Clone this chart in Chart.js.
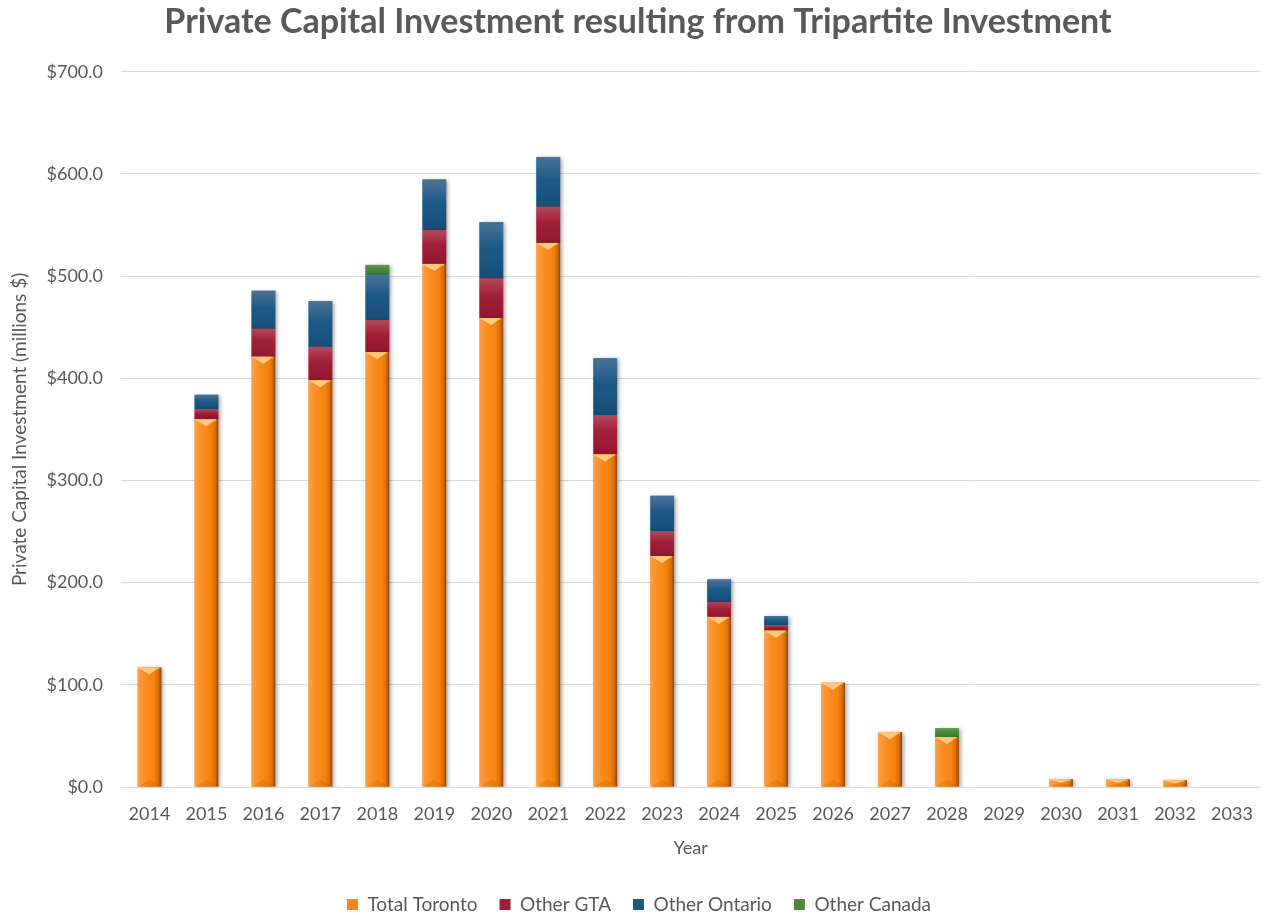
<!DOCTYPE html>
<html lang="en">
<head>
  <meta charset="UTF-8">
  <title>Private Capital Investment</title>
  <script src="https://cdn.jsdelivr.net/npm/chart.js"></script>
  <style>
    html, body { margin: 0; padding: 0; background: #fff; }
    .wrap { width: 1269px; height: 915px; position: relative; }
  </style>
</head>
<body>
  <div class="wrap">
    <canvas id="chart" width="1269" height="915"></canvas>
  </div>

  <script>
    const years = ['2014', '2015', '2016', '2017', '2018', '2019', '2020', '2021', '2022', '2023',
                   '2024', '2025', '2026', '2027', '2028', '2029', '2030', '2031', '2032', '2033'];
    const totalToronto = [117, 360, 421, 398, 425.5, 512, 459, 532.5, 325.5, 226,
                          166.5, 153, 102, 53.6, 49, 0, 7.5, 7.5, 6.6, 0];
    const otherGTA = [0, 9.8, 27.4, 32.8, 31.3, 33, 38.6, 35.3, 38.5, 24.4,
                      14.4, 5.5, 0, 0, 0, 0, 0, 0, 0, 0];
    const otherOntario = [0, 14, 37.2, 44.6, 44.7, 48.3, 55.2, 48.9, 55.6, 34.6,
                          22.2, 8.8, 0, 0, 0, 0, 0, 0, 0, 0];
    const otherCanada = [0, 0, 0, 0, 9.5, 1.4, 0, 0, 0, 0,
                         0, 0, 0, 0, 8.5, 0, 0, 0, 0, 0];
    const yTicks = [0, 100, 200, 300, 400, 500, 600, 700];

    const textGrey = '#595959';
    const FONT = 'Lato, "Open Sans", sans-serif';

    // vertical gradient stops for the stacked segments (top -> bottom)
    const segShades = {
      1: ['#B24A5C', '#A01E36', '#931830'],
      2: ['#4C7399', '#1C5A86', '#164E78'],
      3: ['#5E9A4C', '#4A8A38', '#3F7A30']
    };

    // shadow + shading on bars, drawn from the bar elements' own geometry
    const barLook = {
      id: 'barLook',
      beforeDatasetDraw(chart) {
        const ctx = chart.ctx;
        ctx.save();
        ctx.shadowColor = 'rgba(0,0,0,0.35)';
        ctx.shadowBlur = 4;
        ctx.shadowOffsetX = 2;
        ctx.shadowOffsetY = 1;
      },
      afterDatasetDraw(chart, args) {
        const ctx = chart.ctx;
        ctx.restore();
        ctx.save();
        args.meta.data.forEach(bar => {
          const w = bar.width;
          const l = bar.x - w / 2, r = bar.x + w / 2;
          const top = Math.min(bar.y, bar.base), bot = Math.max(bar.y, bar.base);
          const h = bot - top;
          if (h < 0.5) return;
          if (args.index === 0) {
            const g = ctx.createLinearGradient(l, 0, r, 0);
            g.addColorStop(0, '#FBA048');
            g.addColorStop(0.3, '#FA8E22');
            g.addColorStop(0.7, '#F5820C');
            g.addColorStop(0.88, '#D86C0A');
            g.addColorStop(1, '#8A4508');
            ctx.fillStyle = g;
            ctx.fillRect(l, top, w, h);
            const bv = Math.min(7, h / 2);
            // top bevel
            ctx.fillStyle = 'rgba(255,214,150,0.85)';
            ctx.beginPath();
            ctx.moveTo(l, top);
            ctx.lineTo(r - 2, top);
            ctx.lineTo(bar.x, top + bv);
            ctx.closePath();
            ctx.fill();
            ctx.fillStyle = 'rgba(255,190,110,0.5)';
            ctx.fillRect(l, top, w - 2, Math.min(2, h));
            // bottom bevel
            ctx.fillStyle = 'rgba(150,70,0,0.15)';
            ctx.beginPath();
            ctx.moveTo(l, bot);
            ctx.lineTo(r, bot);
            ctx.lineTo(bar.x, bot - bv);
            ctx.closePath();
            ctx.fill();
          } else {
            const s = segShades[args.index];
            const g = ctx.createLinearGradient(0, top, 0, bot);
            g.addColorStop(0, s[0]);
            g.addColorStop(0.45, s[1]);
            g.addColorStop(1, s[2]);
            ctx.fillStyle = g;
            ctx.fillRect(l, top, w, h);
          }
        });
        ctx.restore();
      }
    };

    // nudge legend and title to where the original has them
    const boxShift = {
      id: 'boxShift',
      afterLayout(chart) {
        chart.legend.top += 9;
        chart.legend.bottom += 9;
        chart.legend.left += 7;
        chart.legend.right += 7;
        chart.titleBlock.left += 6;
        chart.titleBlock.right += 6;
      }
    };

    const ctx = document.getElementById('chart').getContext('2d');
    new Chart(ctx, {
      type: 'bar',
      data: {
        labels: years,
        datasets: [
          { label: 'Total Toronto', data: totalToronto, backgroundColor: '#F7871C' },
          { label: 'Other GTA', data: otherGTA, backgroundColor: '#A01E36' },
          { label: 'Other Ontario', data: otherOntario, backgroundColor: '#1C5A86' },
          { label: 'Other Canada', data: otherCanada, backgroundColor: '#4A8A38' }
        ]
      },
      options: {
        responsive: false,
        animation: false,
        layout: { padding: { left: 0, right: 5, top: 0, bottom: 0 } },
        datasets: {
          bar: { categoryPercentage: 1, barPercentage: 0.415, borderWidth: 0 }
        },
        plugins: {
          title: {
            display: true,
            text: 'Private Capital Investment resulting from Tripartite Investment',
            color: textGrey,
            font: { family: FONT, size: 34, weight: 'bold' },
            padding: { top: 2, bottom: 29 }
          },
          legend: {
            position: 'bottom',
            labels: {
              color: textGrey,
              font: { family: FONT, size: 19 },
              boxWidth: 11,
              boxHeight: 11,
              padding: 22
            }
          },
          tooltip: { enabled: false }
        },
        scales: {
          x: {
            stacked: true,
            grid: { display: false, drawTicks: false },
            border: { display: false },
            ticks: { color: textGrey, font: { family: FONT, size: 18 }, padding: 16 },
            title: {
              display: true, text: 'Year', color: textGrey,
              font: { family: FONT, size: 18 }, padding: { top: 6, bottom: 5 }
            },
            afterFit(s) {
              s.height = 915 - 787 - s.chart.legend.height;
            }
          },
          y: {
            stacked: true,
            min: 0,
            max: 700,
            grid: { color: '#D9D9D9', drawTicks: false, lineWidth: 1 },
            border: { display: false },
            afterBuildTicks(s) {
              s.ticks = yTicks.map(v => ({ value: v }));
            },
            ticks: {
              color: textGrey,
              font: { family: FONT, size: 18 },
              padding: 18,
              callback: v => '$' + Number(v).toFixed(1)
            },
            title: {
              display: true, text: 'Private Capital Investment (millions $)', color: textGrey,
              font: { family: FONT, size: 19 }, padding: { top: 8, bottom: 0 }
            },
            afterFit(s) {
              s.width = 121;
            }
          }
        }
      },
      plugins: [barLook, boxShift]
    });
  </script>
</body>
</html>
